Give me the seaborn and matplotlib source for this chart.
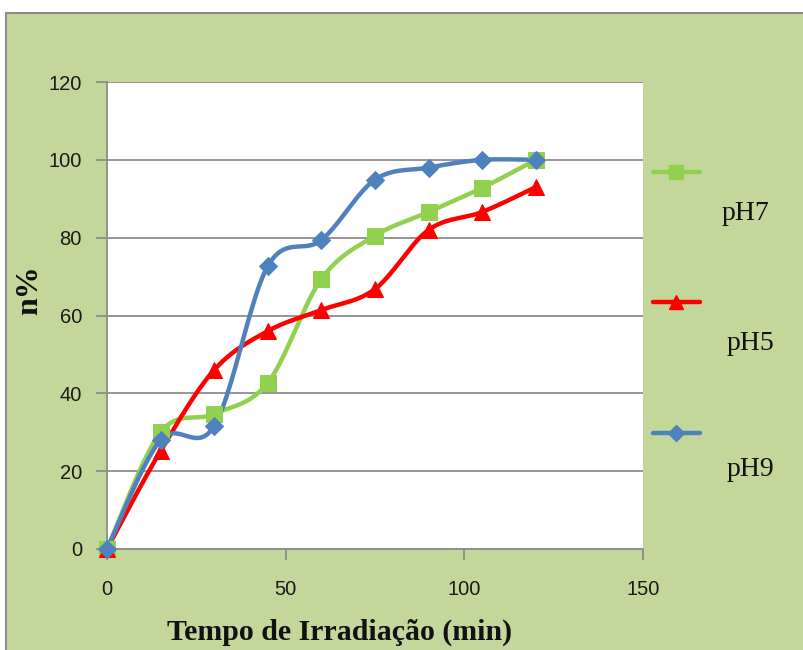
import numpy as np
import pandas as pd
import matplotlib
matplotlib.use("Agg")
import matplotlib.pyplot as plt
import seaborn as sns
from matplotlib.patches import Rectangle
from matplotlib.lines import Line2D

# ---- data ----
tempo = [0, 15, 30, 45, 60, 75, 90, 105, 120]
ph7 = [0, 30, 34.7, 42.7, 69.4, 80.5, 86.6, 92.8, 100]
ph5 = [0, 25.2, 46, 56, 61.4, 66.8, 82, 86.6, 93]
ph9 = [0, 28, 31.6, 72.7, 79.4, 94.9, 98, 100, 100]
series_names = ["pH7", "pH5", "pH9"]
x_ticks = [0, 50, 100, 150]
y_ticks = [0, 20, 40, 60, 80, 100, 120]

colors = {"pH7": "#92D050", "pH5": "#FF0000", "pH9": "#4F81BD"}
markers = {"pH7": "s", "pH5": "^", "pH9": "D"}
msize = {"pH7": 11, "pH5": 11, "pH9": 9}
BG = "#C4D79B"


def smooth(x, y, n=30):
    """Excel-like smoothed line (Catmull-Rom Bezier) for rendering."""
    x = np.asarray(x, float); y = np.asarray(y, float)
    P = np.column_stack([x, y])
    out = []
    for i in range(len(P) - 1):
        p0 = P[i - 1] if i > 0 else P[i]
        p1 = P[i]; p2 = P[i + 1]
        p3 = P[i + 2] if i + 2 < len(P) else P[i + 1]
        c1 = p1 + (p2 - p0) / 6.0
        c2 = p2 - (p3 - p1) / 6.0
        t = np.linspace(0, 1, n)[:, None]
        seg = ((1 - t) ** 3) * p1 + 3 * ((1 - t) ** 2) * t * c1 + 3 * (1 - t) * t ** 2 * c2 + t ** 3 * p2
        out.append(seg if i == 0 else seg[1:])
    s = np.vstack(out)
    return s[:, 0], s[:, 1]


df = pd.DataFrame({"tempo": tempo * 3,
                   "valor": ph7 + ph5 + ph9,
                   "serie": sum([[s] * len(tempo) for s in series_names], [])})

sns.set_theme(style="white")
plt.rcParams["font.family"] = ["Liberation Sans", "DejaVu Sans"]

fig = plt.figure(figsize=(8.04, 6.5), dpi=100)
fig.patch.set_facecolor("white")
frame = Rectangle((6 / 804, -0.02), 1.0, 1 - 13 / 650 + 0.02,
                  transform=fig.transFigure, facecolor=BG,
                  edgecolor="#8C8C8C", linewidth=1.5, zorder=-10)
fig.patches.append(frame)

ax = fig.add_axes([107 / 804, 1 - 549 / 650, 536 / 804, 467 / 650])
ax.set_zorder(1)
ax.set_facecolor("white")

for name in series_names:
    sub = df[df["serie"] == name]
    sx, sy = smooth(sub["tempo"].values, sub["valor"].values)
    sns.lineplot(x=sx, y=sy, ax=ax, color=colors[name], linewidth=3.2,
                 sort=False, estimator=None, clip_on=False, zorder=3)
    sns.lineplot(x=sub["tempo"], y=sub["valor"], ax=ax, color=colors[name],
                 linestyle="", marker=markers[name], markersize=msize[name],
                 markeredgecolor=colors[name], estimator=None, clip_on=False,
                 zorder=4)

ax.set_xlim(0, 150)
ax.set_ylim(0, 120)
ax.set_xticks(x_ticks)
ax.set_yticks(y_ticks)
ax.yaxis.grid(True, color="#8C8C8C", linewidth=1.3)
ax.xaxis.grid(False)
for s in ["top", "right"]:
    ax.spines[s].set_visible(False)
for s in ["left", "bottom"]:
    ax.spines[s].set_color("#8C8C8C")
    ax.spines[s].set_linewidth(1.3)
ax.tick_params(axis="both", which="major", direction="out", length=8,
               width=1.3, color="#8C8C8C", labelsize=14.5, labelcolor="#1a1a1a",
               left=True, bottom=True)
ax.tick_params(axis="y", pad=10)
ax.tick_params(axis="x", pad=14)
ax.set_xlabel("")
ax.set_ylabel("")

fig.text(340 / 804, 1 - 632 / 650, "Tempo de Irradiação (min)",
         family=["Liberation Serif", "DejaVu Serif"], fontweight="bold",
         fontsize=21.5, ha="center", va="center", color="#111111")
fig.text(30 / 804, 1 - 290 / 650, "n%", rotation=90,
         family=["Liberation Serif", "DejaVu Serif"], fontweight="bold",
         fontsize=23, ha="center", va="center", color="#111111")

# legend (manual, outside right)
leg_y = [172, 302, 433]
lab_xy = [(745, 213), (750, 343), (750, 470)]
for name, ly, (tx, ty) in zip(series_names, leg_y, lab_xy):
    yy = 1 - ly / 650
    ln = Line2D([653 / 804, 676 / 804, 700 / 804], [yy, yy, yy],
                transform=fig.transFigure, color=colors[name],
                linewidth=3.2, marker=markers[name],
                markevery=[1], markersize=msize[name] * 0.9)
    fig.lines.append(ln)
    fig.text(tx / 804, 1 - ty / 650, name,
             family=["Liberation Serif", "DejaVu Serif"], fontsize=20,
             ha="center", va="center", color="#111111")

fig.savefig("out.png", dpi=100, facecolor=fig.get_facecolor())
